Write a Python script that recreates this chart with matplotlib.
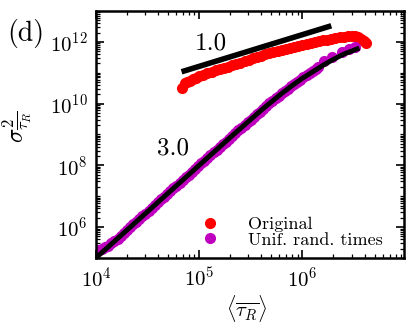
import numpy as np
import matplotlib
matplotlib.use("Agg")
import matplotlib.pyplot as plt
from matplotlib.ticker import LogLocator, NullFormatter

plt.rcParams["font.family"] = "serif"
plt.rcParams["font.serif"] = ["cmr10", "DejaVu Serif"]
plt.rcParams["mathtext.fontset"] = "cm"
plt.rcParams["axes.unicode_minus"] = False
plt.rcParams["axes.formatter.use_mathtext"] = True

# values, as log10 exponents
orig_log_tau = [4.83, 4.86, 4.88, 4.91, 4.94, 4.97, 5.00, 5.04, 5.08, 5.12,
                5.16, 5.20, 5.24, 5.28, 5.32, 5.36, 5.40, 5.44, 5.48, 5.52,
                5.56, 5.60, 5.64, 5.68, 5.72, 5.76, 5.80, 5.84, 5.88, 5.92,
                5.96, 6.00, 6.04, 6.08, 6.12, 6.16, 6.20, 6.24, 6.28, 6.32,
                6.36, 6.40, 6.44, 6.48, 6.51, 6.54, 6.57, 6.60, 6.62]
orig_log_var = [10.51, 10.66, 10.70, 10.74, 10.79, 10.84, 10.89, 10.94, 10.98, 11.03,
                11.08, 11.12, 11.16, 11.20, 11.25, 11.29, 11.33, 11.38, 11.42, 11.47,
                11.51, 11.55, 11.59, 11.63, 11.67, 11.70, 11.74, 11.77, 11.81, 11.84,
                11.87, 11.90, 11.93, 11.96, 11.99, 12.02, 12.05, 12.07, 12.10, 12.12,
                12.15, 12.17, 12.18, 12.19, 12.18, 12.15, 12.10, 12.03, 11.95]

unif_log_tau = [4.00, 4.03, 4.06, 4.09, 4.12, 4.15, 4.18, 4.21, 4.24, 4.27,
                4.30, 4.33, 4.36, 4.39, 4.42, 4.45, 4.48, 4.51, 4.54, 4.57,
                4.60, 4.63, 4.66, 4.69, 4.72, 4.75, 4.78, 4.81, 4.84, 4.87,
                4.90, 4.93, 4.96, 4.99, 5.02, 5.05, 5.08, 5.11, 5.14, 5.17,
                5.20, 5.23, 5.26, 5.29, 5.32, 5.35, 5.38, 5.41, 5.44, 5.47,
                5.50, 5.53, 5.56, 5.59, 5.62, 5.65, 5.68, 5.71, 5.74, 5.77,
                5.80, 5.83, 5.86, 5.89, 5.92, 5.95, 5.98, 6.01, 6.04, 6.07,
                6.10, 6.13, 6.15, 6.21, 6.29, 6.38, 6.45, 6.51]
unif_log_var = [5.25, 5.27, 5.30, 5.35, 5.40, 5.47, 5.54, 5.63, 5.72, 5.81,
                5.90, 6.00, 6.09, 6.18, 6.27, 6.36, 6.44, 6.53, 6.62, 6.71,
                6.80, 6.90, 6.99, 7.08, 7.17, 7.26, 7.34, 7.43, 7.52, 7.61,
                7.70, 7.79, 7.88, 7.97, 8.06, 8.15, 8.24, 8.33, 8.42, 8.51,
                8.60, 8.68, 8.77, 8.86, 8.95, 9.04, 9.13, 9.22, 9.31, 9.39,
                9.48, 9.57, 9.66, 9.74, 9.83, 9.92, 10.01, 10.09, 10.17, 10.25,
                10.33, 10.41, 10.48, 10.56, 10.63, 10.70, 10.77, 10.85, 10.92, 10.99,
                11.06, 11.12, 11.17, 11.37, 11.52, 11.68, 11.77, 11.84]

fit1_log_tau = [4.83, 6.28]
fit1_log_var = [11.03, 12.52]

fit3_log_tau = [4.0, 4.5, 5.0, 5.3, 5.6, 5.8, 5.9, 6.0, 6.1, 6.2, 6.3, 6.4, 6.53]
fit3_log_var = [5.0, 6.5, 8.0, 8.9, 9.78, 10.33, 10.58, 10.82, 11.03, 11.24, 11.43, 11.6, 11.77]

fig = plt.figure(figsize=(4.15, 3.32), dpi=100)
ax = fig.add_axes([0.231, 0.223, 0.742, 0.744])

ax.plot(10.0 ** np.array(orig_log_tau), 10.0 ** np.array(orig_log_var), "o",
        color="#ff0000", ms=8, mew=0, label="Original")
ax.plot(10.0 ** np.array(fit1_log_tau), 10.0 ** np.array(fit1_log_var),
        "-", color="k", lw=4, solid_capstyle="butt")
ax.plot(10.0 ** np.array(unif_log_tau), 10.0 ** np.array(unif_log_var), "o",
        color="#bf00bf", ms=8, mew=0, label="Unif. rand. times")
ax.plot(10.0 ** np.array(fit3_log_tau), 10.0 ** np.array(fit3_log_var),
        "-", color="k", lw=3.5)

ax.set_xscale("log")
ax.set_yscale("log")
ax.set_xlim(1e4, 9.6e6)
ax.set_ylim(1e5, 1e13)

ax.xaxis.set_major_locator(LogLocator(base=10, numticks=10))
ax.xaxis.set_minor_locator(LogLocator(base=10, subs=np.arange(2, 10), numticks=30))
ax.yaxis.set_major_locator(LogLocator(base=100, numticks=10))
ax.yaxis.set_minor_locator(LogLocator(base=10, subs=np.arange(1, 10), numticks=30))
ax.xaxis.set_minor_formatter(NullFormatter())
ax.yaxis.set_minor_formatter(NullFormatter())

ax.tick_params(which="both", direction="in", top=True, right=True, labelsize=15)
ax.tick_params(which="major", length=6, width=1.2, pad=6)
ax.tick_params(which="minor", length=3, width=0.9)
for s in ax.spines.values():
    s.set_linewidth(1.8)

ax.text(1.3e5, 8.7e11, "1.0", fontsize=18, ha="center", va="center")
ax.text(5.6e4, 3.5e8, "3.0", fontsize=18, ha="center", va="center")

ax.set_xlabel(r"$\langle\overline{\tau_R}\rangle$", fontsize=15)
ax.set_ylabel(r"$\sigma^2_{\overline{\tau_R}}$", fontsize=17)
ax.xaxis.set_label_coords(0.49, -0.14)
ax.yaxis.set_label_coords(-0.20, 0.53)

ax.legend(loc="lower left", bbox_to_anchor=(0.30, -0.01), frameon=False,
          fontsize=13, handlelength=1.0, handletextpad=1.6, labelspacing=0.0,
          borderpad=0.2, markerscale=1.0)

fig.text(0.018, 0.90, "(d)", fontsize=20, ha="left", va="center")

fig.savefig("out.png", dpi=100)
